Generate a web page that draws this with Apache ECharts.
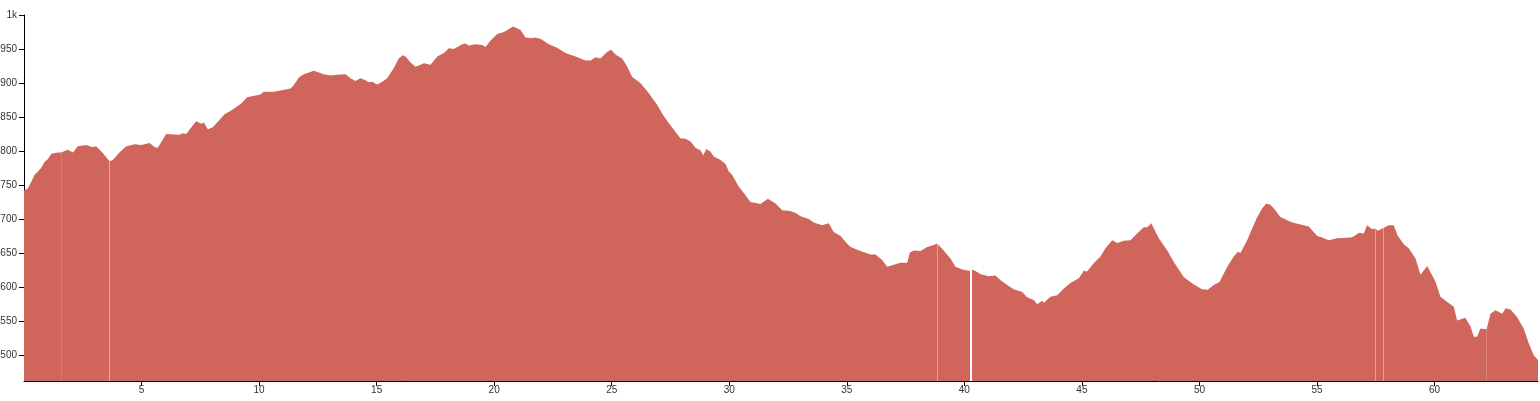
<!DOCTYPE html>
<html>
<head>
<meta charset="utf-8">
<script src="https://cdn.jsdelivr.net/npm/echarts@6/dist/echarts.min.js"></script>
<style>
html,body{margin:0;padding:0;background:#fff;}
#chart{width:1540px;height:401px;}
</style>
</head>
<body>
<div id="chart"></div>
<script>
const dist = [0,0.16,0.31,0.45,0.59,0.73,0.87,1.01,1.16,1.44,1.58,1.86,2.08,2.29,2.65,2.79,2.93,3.07,3.35,3.64,3.78,4.06,4.35,4.70,4.99,5.34,5.55,5.69,6.05,6.61,6.75,6.90,7.32,7.54,7.65,7.82,8.03,8.32,8.53,8.74,8.95,9.24,9.38,9.49,10.06,10.20,10.63,11.34,11.48,11.69,11.90,12.33,12.75,13.04,13.32,13.68,13.89,14.10,14.31,14.53,14.67,14.81,15.02,15.24,15.45,15.73,15.94,16.11,16.23,16.44,16.65,16.87,17.01,17.29,17.58,17.86,18.07,18.28,18.64,18.78,18.92,19.20,19.49,19.63,19.84,20.13,20.41,20.81,21.12,21.33,21.62,21.71,21.97,22.32,22.68,23.03,23.46,23.88,24.10,24.31,24.52,24.81,24.98,25.16,25.44,25.66,25.87,26.22,26.58,26.72,26.93,27.15,27.43,27.92,28.14,28.35,28.56,28.78,28.89,29.03,29.20,29.34,29.63,29.84,29.98,30.12,30.40,30.69,30.90,31.33,31.64,31.97,32.25,32.60,32.82,33.03,33.38,33.59,33.95,34.23,34.44,34.73,35.01,35.16,35.58,36.01,36.22,36.50,36.72,37.28,37.57,37.68,37.85,38.13,38.42,38.70,38.84,39.12,39.41,39.62,39.91,40.19,40.40,40.69,41.04,41.32,41.54,41.82,42.10,42.46,42.67,42.95,43.10,43.31,43.38,43.66,43.95,44.23,44.51,44.87,45.08,45.22,45.50,45.79,46.00,46.29,46.50,46.78,47.07,47.35,47.63,47.78,47.95,48.27,48.63,48.91,49.33,49.76,50.11,50.35,50.61,50.86,51.18,51.46,51.63,51.74,52.03,52.24,52.46,52.67,52.84,53.02,53.23,53.44,53.87,54.08,54.44,54.65,55.01,55.22,55.50,55.86,56.42,56.54,56.78,56.99,57.13,57.35,57.49,57.58,58.05,58.26,58.43,58.69,58.90,59.19,59.40,59.69,60.04,60.25,60.54,60.82,60.96,61.31,61.53,61.67,61.81,61.95,62.21,62.38,62.59,62.88,63.02,63.23,63.51,63.79,64.01,64.22,64.40];
const elev = [742,745,755,765,770,775,784,788,796,798,798,802,798,807,809,807,806,807,797,785,787,798,807,810,809,812,806,805,825,824,826,825,844,840,842,832,835,846,854,858,863,870,875,879,883,887,887,892,897,908,913,918,913,911,912,913,907,903,907,904,901,902,898,902,907,922,936,941,939,930,924,927,929,927,939,944,951,950,957,958,955,957,956,953,962,972,975,983,978,967,966,967,965,957,952,944,939,933,933,938,936,946,949,942,936,924,909,900,885,878,868,855,841,819,818,814,805,801,794,803,799,792,787,781,770,765,748,735,725,722,730,723,713,712,709,704,700,695,691,694,681,675,664,659,653,648,648,640,630,636,636,651,654,653,659,662,664,654,642,630,626,624,625,619,616,617,610,603,597,593,585,581,575,580,577,586,588,598,606,613,624,623,635,645,657,669,665,668,669,679,688,688,694,672,654,637,615,604,597,596,603,608,630,645,652,650,669,686,703,716,723,721,713,703,696,694,691,689,675,673,669,672,673,674,680,679,691,685,686,683,691,691,676,663,657,642,618,631,608,586,578,571,551,555,542,527,527,539,538,561,566,561,569,567,556,539,517,500,493,490];
const xTickStep = 5;
// thin light gaps visible in the reference fill (km, opacity, width)
const gapKm = [1.58, 3.64, 38.84, 40.25, 57.49, 57.83, 62.21];
const gapAlpha = [0.15, 0.45, 0.4, 1, 0.4, 0.4, 0.2];
const gapWidth = [1, 1, 1, 2, 1, 1, 1];

const chart = echarts.init(document.getElementById('chart'), null, {renderer: 'canvas'});
const font = 'Liberation Sans, Arial, sans-serif';
chart.setOption({
  animation: false,
  grid: {left: 24, right: 2, top: 15, bottom: 20, containLabel: false, outerBoundsMode: 'none'},
  xAxis: {
    type: 'value', min: 0, max: 64.4, interval: xTickStep,
    axisLine: {show: true, onZero: false, lineStyle: {color: '#000', width: 1}},
    axisTick: {show: true, length: 5, lineStyle: {color: '#000'}},
    axisLabel: {showMinLabel: false, showMaxLabel: false, margin: 4, color: '#333', fontSize: 10, fontFamily: font},
    splitLine: {show: false}
  },
  yAxis: {
    type: 'value', min: 462, max: 1000, splitNumber: 10,
    axisLine: {show: true, lineStyle: {color: '#000', width: 1}},
    axisTick: {show: true, length: 5, lineStyle: {color: '#000'}},
    axisLabel: {showMinLabel: false, margin: 7, color: '#333', fontSize: 10, fontFamily: font,
      formatter: v => v >= 1000 ? (v/1000) + 'k' : String(v)},
    splitLine: {show: false}
  },
  series: [{
    type: 'line',
    data: dist.map((d, i) => [d, elev[i]]),
    showSymbol: false,
    symbol: 'none',
    lineStyle: {width: 0},
    areaStyle: {color: '#cf655b', opacity: 1, origin: 'start'},
    z: 1,
    markLine: {
      silent: true, symbol: 'none', animation: false,
      label: {show: false},
      data: gapKm.map((k, i) => ({
        xAxis: k,
        lineStyle: {type: 'solid', color: 'rgba(255,255,255,' + gapAlpha[i] + ')', width: gapWidth[i]}
      }))
    }
  }]
});
</script>
</body>
</html>
